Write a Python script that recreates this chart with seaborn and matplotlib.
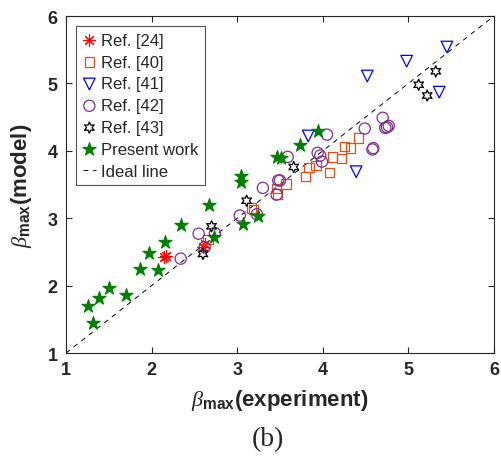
import matplotlib
matplotlib.use("Agg")
import matplotlib.pyplot as plt
import seaborn as sns
import pandas as pd

# === Data ===
ref24_x = [2.14, 2.17, 2.60, 2.62]
ref24_y = [2.43, 2.44, 2.58, 2.62]

ref40_x = [2.66, 3.17, 3.19, 3.46, 3.47, 3.57, 3.80, 3.84, 3.92, 4.08, 4.11, 4.22, 4.25, 4.32, 4.42]
ref40_y = [2.68, 3.15, 3.13, 3.44, 3.36, 3.51, 3.62, 3.75, 3.78, 3.68, 3.91, 3.89, 4.06, 4.04, 4.19]

ref41_x = [5.45, 4.98, 4.52, 5.36, 3.83, 4.39]
ref41_y = [5.54, 5.33, 5.11, 4.87, 4.22, 3.69]

ref42_x = [2.34, 2.55, 2.62, 2.74, 3.03, 3.23, 3.30, 3.46, 3.48, 3.50, 3.59,
           3.94, 3.97, 3.99, 4.05, 4.49, 4.58, 4.59, 4.70, 4.73, 4.75, 4.77]
ref42_y = [2.40, 2.77, 2.57, 2.78, 3.04, 3.06, 3.45, 3.35, 3.56, 3.56, 3.91,
           3.97, 3.93, 3.84, 4.24, 4.33, 4.02, 4.04, 4.49, 4.34, 4.35, 4.37]

ref43_x = [2.60, 2.70, 3.11, 3.66, 5.12, 5.22, 5.32]
ref43_y = [2.47, 2.88, 3.26, 3.76, 4.98, 4.82, 5.18]

present_x = [1.26, 1.32, 1.39, 1.50, 1.70, 1.86, 1.97, 2.07, 2.16, 2.34,
             2.67, 2.73, 3.04, 3.04, 3.07, 3.24, 3.46, 3.51, 3.73, 3.94]
present_y = [1.70, 1.45, 1.81, 1.97, 1.86, 2.24, 2.48, 2.23, 2.64, 2.90,
             3.20, 2.72, 3.62, 3.54, 2.92, 3.04, 3.91, 3.89, 4.09, 4.29]

ideal = [1, 6]

# === Style ===
sns.set_style("ticks")
plt.rcParams["font.family"] = ["Liberation Sans", "DejaVu Sans"]
plt.rcParams["mathtext.fontset"] = "custom"
plt.rcParams["mathtext.it"] = "Liberation Serif:italic"
plt.rcParams["mathtext.rm"] = "Liberation Sans"
plt.rcParams["mathtext.bf"] = "Liberation Sans:bold"

fig = plt.figure(figsize=(5.02, 4.60), dpi=100)
ax = fig.add_axes([0.1315, 0.2304, 0.8525, 0.7326])

hexagram = (6, 1, 0)
asterisk = (8, 2, 0)

series = [
    ("Ref. [24]", ref24_x, ref24_y, asterisk, "#ff0000", True, 70),
    ("Ref. [40]", ref40_x, ref40_y, "s", "#d95319", False, 45),
    ("Ref. [41]", ref41_x, ref41_y, "v", "#0000ff", False, 70),
    ("Ref. [42]", ref42_x, ref42_y, "o", "#7e2f8e", False, 65),
    ("Ref. [43]", ref43_x, ref43_y, hexagram, "#000000", False, 65),
    ("Present work", present_x, present_y, "*", "#008000", True, 100),
]

for label, xs, ys, mk, c, filled, s in series:
    df = pd.DataFrame({"x": xs, "y": ys})
    if filled:
        sns.scatterplot(data=df, x="x", y="y", ax=ax, marker=mk, color=c,
                        edgecolor=c, s=s, linewidth=0.8, label=label, zorder=3)
    else:
        sns.scatterplot(data=df, x="x", y="y", ax=ax, marker=mk, color=c,
                        facecolor="none", edgecolor=c, s=s, linewidth=0.9,
                        label=label, zorder=3)

sns.lineplot(x=ideal, y=ideal, ax=ax, color="black", linestyle=(0, (5, 5)),
             linewidth=0.7, label="Ideal line", zorder=2)

ax.set_xlim(1, 6)
ax.set_ylim(1, 6)
ax.set_xticks([1, 2, 3, 4, 5, 6])
ax.set_yticks([1, 2, 3, 4, 5, 6])
ax.tick_params(direction="in", top=True, right=True, length=4, width=0.8,
               labelsize=13, color="#262626", pad=6)
for lab in ax.get_xticklabels() + ax.get_yticklabels():
    lab.set_fontweight("bold")
for sp in ax.spines.values():
    sp.set_color("#262626")
    sp.set_linewidth(0.8)

ax.set_xlabel(r"$\beta_{\mathbf{max}}$(experiment)", fontsize=16, fontweight="bold")
ax.set_ylabel(r"$\beta_{\mathbf{max}}$(model)", fontsize=16, fontweight="bold")
ax.xaxis.set_label_coords(0.5, -0.1)
ax.yaxis.set_label_coords(-0.075, 0.5)

leg = ax.legend(loc="upper left", fontsize=12, frameon=True, fancybox=False,
                borderpad=0.4, labelspacing=0.41, handletextpad=0.3,
                handlelength=0.8, borderaxespad=0.6)
leg.get_frame().set_edgecolor("#262626")
leg.get_frame().set_linewidth(0.8)

fig.text(0.534, 1 - 440 / 460, "(b)", ha="center", va="center", fontsize=20,
         family="Liberation Serif")

plt.savefig("out.png", dpi=100)
